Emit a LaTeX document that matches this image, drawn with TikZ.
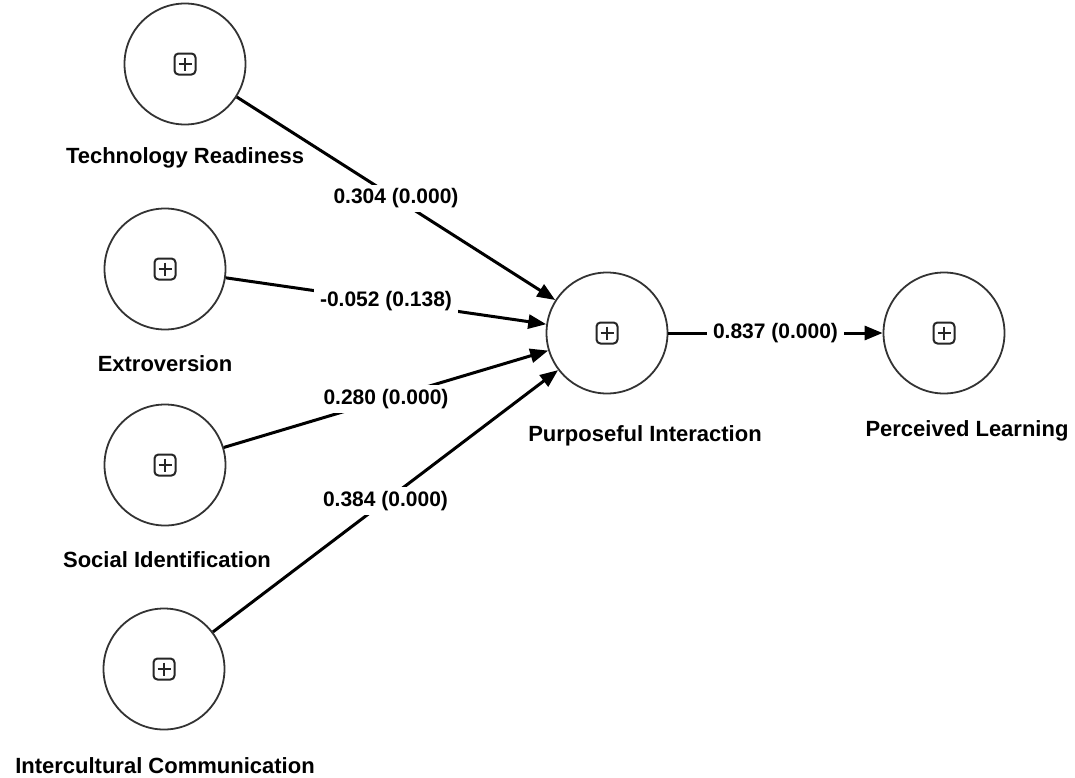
\documentclass[tikz,border=0pt]{standalone}
\usepackage{fontspec}
\setmainfont{Liberation Sans}
\usetikzlibrary{arrows.meta}
\tikzset{
  construct/.style={circle, draw=black!80, line width=1.8pt, minimum size=121pt, inner sep=0pt, fill=white},
  edge/.style={line width=3pt, -{Triangle[length=18pt,width=14pt]}},
  nlab/.style={font=\fontsize{22}{26}\selectfont\bfseries, fill=white, inner sep=3pt, anchor=base},
  elab/.style={font=\fontsize{21}{25}\selectfont\bfseries, fill=white, inner xsep=6pt, inner ysep=4pt},
  plusicon/.pic={
    \draw[line width=2pt, black!85, rounded corners=4pt] (-10.5,-10.5) rectangle (10.5,10.5);
    \draw[line width=2pt, black!85] (-6.5,0) -- (6.5,0) (0,-6.5) -- (0,6.5);
  }
}
\begin{document}
\begin{tikzpicture}[x=1pt, y=-1pt]
\useasboundingbox (0,0) rectangle (1075,777);
% constructs
\node[construct] (TR) at (185,64) {};
\node[construct] (EX) at (165,269) {};
\node[construct] (SI) at (165,465) {};
\node[construct] (IC) at (164,669) {};
\node[construct] (PI) at (607,333) {};
\node[construct] (PL) at (944,333) {};
% icons
\foreach \n in {TR,EX,SI,IC,PI,PL} { \pic at (\n) {plusicon}; }
% paths
\draw[edge] (TR) -- (PI) node[elab, midway] (e1) {0.304 (0.000)};
\draw[edge] (EX) -- (PI) node[elab, midway] (e2) {-0.052 (0.138)};
\draw[edge] (SI) -- (PI) node[elab, midway] (e3) {0.280 (0.000)};
\draw[edge] (IC) -- (PI) node[elab, midway] (e4) {0.384 (0.000)};
\draw[edge] (PI) -- (PL) node[elab, midway] (e5) {0.837 (0.000)};
% construct names
\node[nlab] (TRl) at (185,163) {Technology Readiness};
\node[nlab] (EXl) at (165,371) {Extroversion};
\node[nlab] (SIl) at (167,567) {Social Identification};
\node[nlab] (ICl) at (165,773) {Intercultural Communication};
\node[nlab] (PIl) at (645,441) {Purposeful Interaction};
\node[nlab] (PLl) at (967,436) {Perceived Learning};
\end{tikzpicture}
\end{document}
